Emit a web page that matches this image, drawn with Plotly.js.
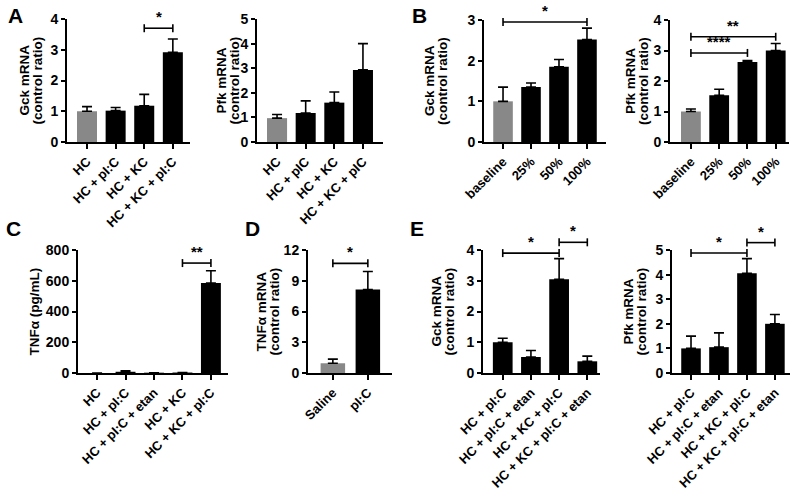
<!DOCTYPE html>
<html><head><meta charset="utf-8">
<script src="https://cdn.plot.ly/plotly-3.0.1.min.js"></script>
<style>html,body{margin:0;padding:0;background:#fff}</style>
</head><body>
<div id="chart" style="width:800px;height:493px"></div>
<script>
// ---------- DATA ----------
const catsA = ["HC", "HC + pI:C", "HC + KC", "HC + KC + pI:C"];
const gckA = [1.0, 1.02, 1.18, 2.92];
const gckAErr = [0.15, 0.10, 0.37, 0.43];
const catsAPfk = ["HC", "HC + pIC", "HC + KC", "HC + KC + pIC"];
const pfkA = [0.97, 1.18, 1.6, 2.93];
const pfkAErr = [0.15, 0.49, 0.43, 1.07];
const catsB = ["baseline", "25%", "50%", "100%"];
const gckB = [1.0, 1.35, 1.85, 2.52];
const gckBErr = [0.35, 0.10, 0.18, 0.28];
const pfkB = [1.0, 1.53, 2.62, 3.0];
const pfkBErr = [0.08, 0.20, 0.05, 0.23];
const catsC = ["HC", "HC + pI:C", "HC + pI:C + etan", "HC + KC", "HC + KC + pI:C"];
const tnfC = [0, 8, 2, 3, 585];
const tnfCErr = [0, 7, 0, 0, 80];
const catsD = ["Saline", "pI:C"];
const tnfD = [0.95, 8.15];
const tnfDErr = [0.4, 1.75];
const catsE = ["HC + pI:C", "HC + pI:C + etan", "HC + KC + pI:C", "HC + KC + pI:C + etan"];
const gckE = [1.0, 0.52, 3.05, 0.38];
const gckEErr = [0.13, 0.21, 0.67, 0.17];
const pfkE = [1.0, 1.05, 4.05, 2.0];
const pfkEErr = [0.5, 0.58, 0.6, 0.38];
// significance brackets: [fromIndex, toIndex, yLevel, label]
const sigAGck = [[2, 3, 3.7, "*"]];
const sigBGck = [[0, 3, 2.95, "*"]];
const sigBPfk = [[0, 3, 3.45, "**"], [0, 2, 2.92, "****"]];
const sigC = [[3, 4, 715, "**"]];
const sigD = [[0, 1, 10.7, "*"]];
const sigEGck = [[0, 2, 3.9, "*"], [2, 3, 4.25, "*"]];
const sigEPfk = [[0, 2, 4.88, "*"], [2, 3, 5.3, "*"]];

// ---------- LAYOUT CONSTANTS ----------
const W = 800, H = 493;
const FONT = "Liberation Sans, Arial, sans-serif";
const GRAY = "#888888", BLACK = "#000000";

// tl: y-title lines, to: x offset (px) of each title line from the y axis
const panels = [
  {cats: catsA, vals: gckA, err: gckAErr, first: GRAY, px: [67, 190], py: [19, 142], xr: [-0.7, 3.6], yr: [0, 4], dt: 1, tl: ["Gck mRNA", "(control ratio)"], to: [-43, -30], sig: sigAGck},
  {cats: catsAPfk, vals: pfkA, err: pfkAErr, first: GRAY, px: [257, 383], py: [19, 142], xr: [-0.7, 3.7], yr: [0, 5], dt: 1, tl: ["Pfk mRNA", "(control ratio)"], to: [-36, -23], sig: []},
  {cats: catsB, vals: gckB, err: gckBErr, first: GRAY, px: [484, 606], py: [20, 142], xr: [-0.68, 3.68], yr: [0, 3], dt: 1, tl: ["Gck mRNA", "(control ratio)"], to: [-55, -42], sig: sigBGck},
  {cats: catsB, vals: pfkB, err: pfkBErr, first: GRAY, px: [670, 789], py: [20, 142], xr: [-0.74, 3.47], yr: [0, 4], dt: 1, tl: ["Pfk mRNA", "(control ratio)"], to: [-40, -27], sig: sigBPfk},
  {cats: catsC, vals: tnfC, err: tnfCErr, first: BLACK, px: [78, 228], py: [250, 373], xr: [-0.67, 4.6], yr: [0, 800], dt: 200, tl: ["TNFα (pg/mL)"], to: [-44], sig: sigC},
  {cats: catsD, vals: tnfD, err: tnfDErr, first: GRAY, px: [308, 392], py: [250, 373], xr: [-0.71, 1.69], yr: [0, 12], dt: 3, tl: ["TNFα mRNA", "(control ratio)"], to: [-47, -34], sig: sigD},
  {cats: catsE, vals: gckE, err: gckEErr, first: BLACK, px: [483, 600], py: [250, 373], xr: [-0.7, 3.45], yr: [0, 4], dt: 1, tl: ["Gck mRNA", "(control ratio)"], to: [-47, -34], sig: sigEGck},
  {cats: catsE, vals: pfkE, err: pfkEErr, first: BLACK, px: [672, 790], py: [250, 373], xr: [-0.68, 3.54], yr: [0, 5], dt: 1, tl: ["Pfk mRNA", "(control ratio)"], to: [-44, -31], sig: sigEPfk}
];

const letters = [["A", 15, 15], ["B", 419, 15], ["C", 13, 228], ["D", 252, 228], ["E", 417, 228]];

const traces = [], shapes = [], annotations = [];
const layout = {
  width: W, height: H, margin: {l: 0, r: 0, t: 0, b: 0},
  paper_bgcolor: "#fff", plot_bgcolor: "#fff", showlegend: false,
  font: {family: FONT, color: "#000", size: 13, weight: 700}
};

panels.forEach((p, i) => {
  const n = i + 1, xa = "x" + (n === 1 ? "" : n), ya = "y" + (n === 1 ? "" : n);
  const xDom = [p.px[0] / W, p.px[1] / W];
  const yDom = [1 - p.py[1] / H, 1 - p.py[0] / H];
  traces.push({
    type: "bar", x: p.cats, y: p.vals, xaxis: xa, yaxis: ya, width: 0.7,
    marker: {color: p.vals.map((v, k) => k === 0 ? p.first : BLACK), line: {width: 0}},
    error_y: {type: "data", symmetric: false, array: p.err, arrayminus: p.err.map(() => 0),
      color: BLACK, thickness: 1.6, width: 5, visible: true},
    hoverinfo: "none", cliponaxis: false
  });
  layout["xaxis" + (n === 1 ? "" : n)] = {
    domain: xDom, anchor: ya, type: "category", range: p.xr, fixedrange: true,
    showline: true, linewidth: 2, linecolor: BLACK, ticks: "outside", ticklen: 5, tickwidth: 2, tickcolor: BLACK,
    tickangle: -45, tickfont: {size: 13, family: FONT, weight: 700}, showgrid: false, zeroline: false
  };
  layout["yaxis" + (n === 1 ? "" : n)] = {
    domain: yDom, anchor: xa, range: p.yr, dtick: p.dt, tick0: 0, fixedrange: true,
    showline: true, linewidth: 2, linecolor: BLACK, ticks: "outside", ticklen: 4, tickwidth: 2, tickcolor: BLACK,
    tickfont: {size: 14, family: FONT, weight: 700}, showgrid: false, zeroline: false
  };
  // y-axis titles (two tight lines)
  p.tl.forEach((t, k) => annotations.push({xref: "paper", yref: "paper",
    x: (p.px[0] + p.to[k]) / W, y: (yDom[0] + yDom[1]) / 2, text: t, textangle: -90,
    showarrow: false, xanchor: "center", yanchor: "middle", font: {size: 13.5, family: FONT, weight: 700}}));
  // data -> paper conversion for brackets drawn above the axes
  const nx = v => xDom[0] + (v - p.xr[0]) / (p.xr[1] - p.xr[0]) * (xDom[1] - xDom[0]);
  const ny = v => yDom[0] + (v - p.yr[0]) / (p.yr[1] - p.yr[0]) * (yDom[1] - yDom[0]);
  const capH = 4 / H;
  p.sig.forEach(s => {
    const x0 = nx(s[0]), x1 = nx(s[1]), y = ny(s[2]);
    const ln = {color: BLACK, width: 1.6};
    shapes.push({type: "line", xref: "paper", yref: "paper", x0: x0, x1: x1, y0: y, y1: y, line: ln});
    shapes.push({type: "line", xref: "paper", yref: "paper", x0: x0, x1: x0, y0: y - capH, y1: y + capH, line: ln});
    shapes.push({type: "line", xref: "paper", yref: "paper", x0: x1, x1: x1, y0: y - capH, y1: y + capH, line: ln});
    annotations.push({xref: "paper", yref: "paper", x: (x0 + x1) / 2, y: y + 1 / H, text: s[3],
      showarrow: false, xanchor: "center", yanchor: "bottom", font: {size: 15, family: FONT, weight: 700}});
  });
});

letters.forEach(l => annotations.push({xref: "paper", yref: "paper", x: l[1] / W, y: 1 - l[2] / H, text: l[0],
  showarrow: false, xanchor: "center", yanchor: "middle", font: {size: 21, family: FONT, weight: 700}}));

layout.shapes = shapes;
layout.annotations = annotations;
Plotly.newPlot("chart", traces, layout, {staticPlot: true, displayModeBar: false});
</script>
</body></html>
